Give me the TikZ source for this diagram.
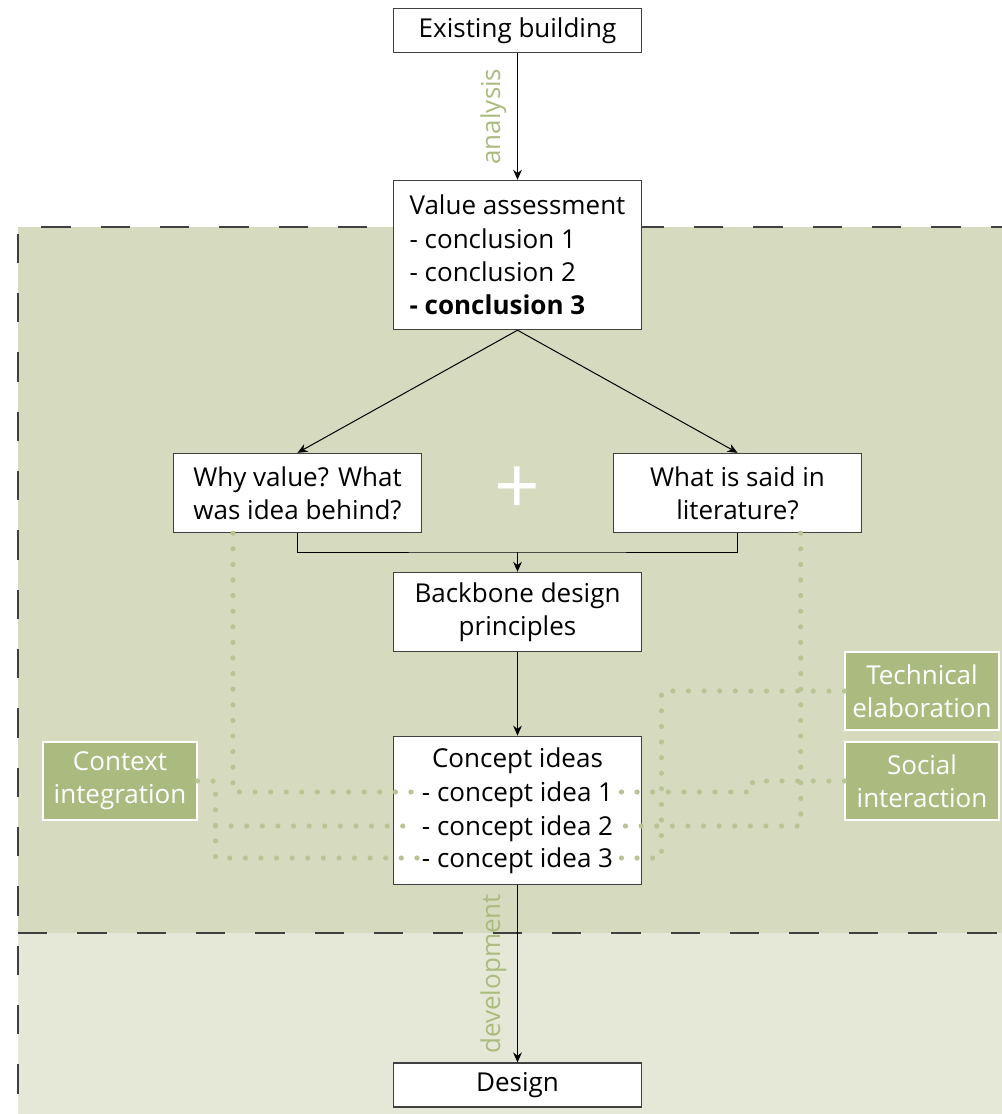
\documentclass[tikz,border=0pt]{standalone}
\usepackage{fontspec}
\setmainfont{Open Sans}
\usetikzlibrary{arrows.meta}

\definecolor{zonedark}{RGB}{214,219,192}
\definecolor{zonelight}{RGB}{229,232,215}
\definecolor{olive}{RGB}{171,187,128}
\definecolor{dotolive}{RGB}{184,196,148}
\definecolor{edgegray}{RGB}{64,64,64}

\tikzset{
  stagebox/.style={draw=edgegray, line width=0.8pt, fill=white, minimum width=186pt,
    inner sep=0pt, font=\fontsize{19.5}{25}\selectfont},
  themebox/.style={draw=white, line width=0.8pt, fill=olive, text=white, minimum width=115.5pt,
    minimum height=58.5pt, inner sep=0pt, align=center, font=\fontsize{19.5}{25}\selectfont},
  idealine/.style={inner sep=3pt, text height=13.5pt, text depth=0pt, font=\fontsize{19.5}{25}\selectfont},
  flowlabel/.style={text=olive, rotate=90, anchor=south, inner sep=8pt, font=\fontsize{19.5}{25}\selectfont},
  flowline/.style={black, line width=0.75pt},
  linkdots/.style={dotolive, line width=3.9pt, line cap=round, dash pattern=on 0pt off 11.7pt},
  zoneedge/.style={edgegray, line width=1.1pt, dash pattern=on 22pt off 22.5pt}
}

\begin{document}
\begin{tikzpicture}[x=0.75pt, y=-0.75pt, >={Stealth[length=7.5pt, width=6.5pt]}]
  \useasboundingbox (0,0) rectangle (1002,1114);
  \clip (0,0) rectangle (1002,1114);

  \fill[zonedark] (18,227) rectangle (1020,933);
  \fill[zonelight] (18,933) rectangle (1020,1130);
  \draw[zoneedge] (1020,227) -- (18,227) -- (18,1130);
  \draw[zoneedge] (18,933) -- (1020,933);

  \node[stagebox, minimum height=33.5pt] (existing) at (517.5,30.5) {Existing building};
  \node[stagebox, minimum height=112pt, align=left] (value) at (517.5,255)
    {Value assessment\\- conclusion 1\\- conclusion 2\\\textbf{- conclusion 3}};
  \node[stagebox, minimum height=59.5pt, align=center] (why) at (297.5,493) {Why value? What\\was idea behind?};
  \node[stagebox, minimum height=59.5pt, align=center] (lit) at (737.5,493) {What is said in\\literature?};
  \node[text=white, font=\fontsize{60}{60}\selectfont] (plus) at (517.5,491) {+};
  \node[stagebox, minimum height=59.5pt, align=center] (backbone) at (517.5,612) {Backbone design\\principles};

  \node[stagebox, minimum height=111.5pt] (concept) at (517.5,810.5) {};
  \node[idealine] (ideahead) at (517.5,758) {Concept ideas};
  \node[idealine] (idea1) at (517.5,792) {- concept idea 1};
  \node[idealine] (idea2) at (517.5,826) {- concept idea 2};
  \node[idealine] (idea3) at (517.5,858) {- concept idea 3};

  \node[stagebox, minimum height=33pt] (design) at (517.5,1085) {Design};

  \node[themebox] (context) at (120,781) {Context\\integration};
  \node[themebox] (tech) at (922,691) {Technical\\elaboration};
  \node[themebox] (social) at (922,781) {Social\\interaction};

  \draw[flowline, ->] (existing) -- node[flowlabel, midway] {analysis} (value);
  \draw[flowline, ->] (value.south) -- (why.north);
  \draw[flowline, ->] (value.south) -- (lit.north);
  \coordinate (merge) at (517.5,552);
  \draw[flowline] (why.south) |- (merge) -| (lit.south);
  \draw[flowline, ->] (merge) -- (backbone.north);
  \draw[flowline, ->] (backbone) -- (concept);
  \draw[flowline, ->] (concept) -- node[flowlabel, midway] {development} (design);

  \draw[linkdots] ([xshift=45pt]why.south west) |- (idea1.west);
  \draw[linkdots] (context.east) -- ++(18,0) coordinate (ctxbus) |- (idea3.west);
  \draw[linkdots] (ctxbus |- idea2.west) -- (idea2.west);
  \draw[linkdots] ([xshift=-46pt]lit.south east) |- (idea2.east);
  \draw[linkdots] (tech.west) -- ++(-183,0) |- (idea3.east);
  \draw[linkdots] (social.west) -- ++(-92,0) |- (idea1.east);
\end{tikzpicture}
\end{document}
